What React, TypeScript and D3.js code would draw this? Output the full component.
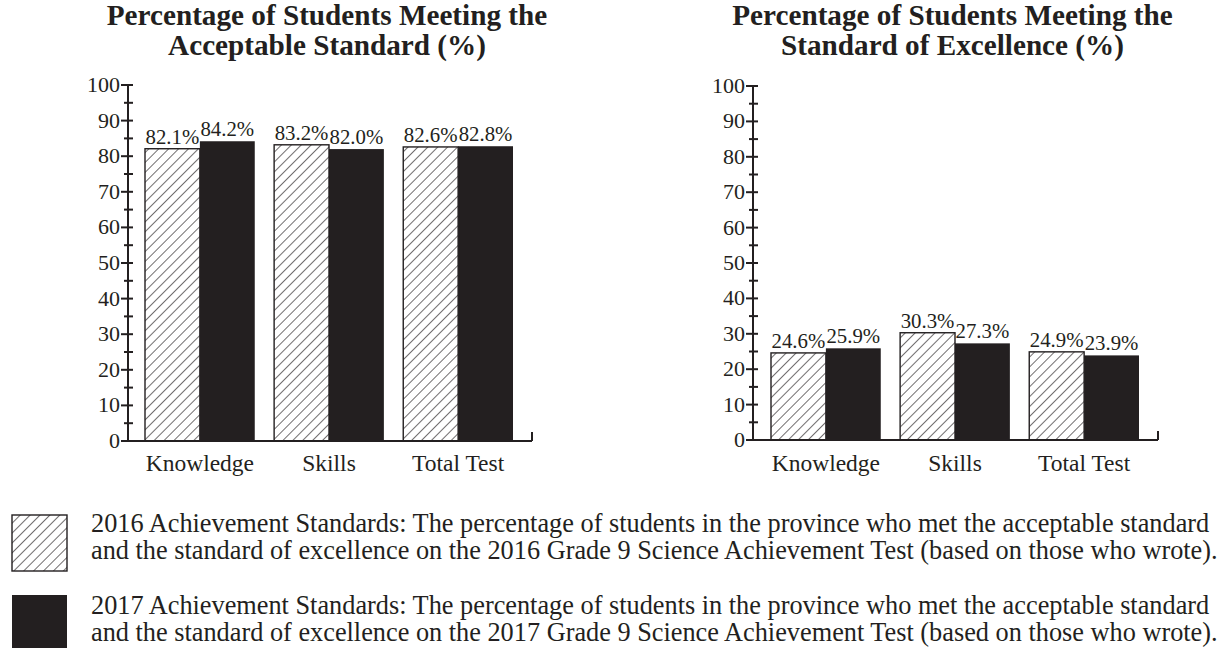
import React from "react";
import * as d3 from "d3";

// chart data
const categories = ["Knowledge", "Skills", "Total Test"];
const years = ["2016", "2017"];
const acceptable2016 = [82.1, 83.2, 82.6];
const acceptable2017 = [84.2, 82.0, 82.8];
const excellence2016 = [24.6, 30.3, 24.9];
const excellence2017 = [25.9, 27.3, 23.9];
const yTicks = [0, 10, 20, 30, 40, 50, 60, 70, 80, 90, 100];
const minorTicks = [5, 15, 25, 35, 45, 55, 65, 75, 85, 95];
const titlesLeft = ["Percentage of Students Meeting the", "Acceptable Standard (%)"];
const titlesRight = ["Percentage of Students Meeting the", "Standard of Excellence (%)"];
const legendLines = [
  [
    "2016 Achievement Standards: The percentage of students in the province who met the acceptable standard",
    "and the standard of excellence on the 2016 Grade 9 Science Achievement Test (based on those who wrote).",
  ],
  [
    "2017 Achievement Standards: The percentage of students in the province who met the acceptable standard",
    "and the standard of excellence on the 2017 Grade 9 Science Achievement Test (based on those who wrote).",
  ],
];

const FONT = "'Liberation Serif', 'Times New Roman', serif";
const INK = "#231f20";

function Panel({ x0, x1, barStart, barEnd, yTop, yBottom, titles, a, b }) {
  const y = d3.scaleLinear().domain([0, 100]).range([yBottom, yTop]);
  const x = d3.scaleBand().domain(categories).range([barStart, barEnd]).paddingInner(0.15);
  const sub = d3.scaleBand().domain(years).range([0, x.bandwidth()]);
  const cx = (x0 + x1) / 2 - 3;
  return (
    <g>
      {titles.map((t, i) => (
        <text key={t} x={cx} y={25 + i * 30} textAnchor="middle" fontSize={29.2} fontWeight="bold" fill={INK}>
          {t}
        </text>
      ))}
      {categories.map((c, i) => {
        const vals = [a[i], b[i]];
        return (
          <g key={c}>
            {years.map((yr, j) => {
              const bx = x(c) + sub(yr);
              const by = y(vals[j]);
              return (
                <g key={yr}>
                  <rect
                    x={bx}
                    y={by}
                    width={sub.bandwidth()}
                    height={yBottom - by}
                    fill={j === 0 ? "url(#hatch)" : INK}
                    stroke={INK}
                    strokeWidth={j === 0 ? 1.4 : 0}
                  />
                  <text x={bx + sub.bandwidth() / 2} y={by - 5} textAnchor="middle" fontSize={20.8} fill={INK}>
                    {vals[j].toFixed(1)}%
                  </text>
                </g>
              );
            })}
            <text x={x(c) + x.bandwidth() / 2} y={471} textAnchor="middle" fontSize={23.5} fill={INK}>
              {c}
            </text>
          </g>
        );
      })}
      {/* y axis */}
      <line x1={x0} x2={x0} y1={yTop} y2={yBottom} stroke={INK} strokeWidth={2} />
      {yTicks.map((t) => (
        <g key={t}>
          <line x1={x0 - 7} x2={x0 + 5} y1={y(t)} y2={y(t)} stroke={INK} strokeWidth={2} />
          <text x={x0 - 8} y={y(t) + 7} textAnchor="end" fontSize={22} fill={INK}>
            {t}
          </text>
        </g>
      ))}
      {minorTicks.map((t) => (
        <line key={t} x1={x0 - 4} x2={x0 + 5} y1={y(t)} y2={y(t)} stroke={INK} strokeWidth={2} />
      ))}
      {/* x axis */}
      <line x1={x0 - 7} x2={x1} y1={yBottom} y2={yBottom} stroke={INK} strokeWidth={2} />
      <line x1={x1} x2={x1} y1={yBottom} y2={yBottom - 9} stroke={INK} strokeWidth={2} />
    </g>
  );
}

export default function App() {
  return (
    <svg
      width={1221}
      height={648}
      style={{ position: "absolute", left: 0, top: 0, background: "#fff" }}
      fontFamily={FONT}
    >
      <defs>
        <pattern id="hatch" patternUnits="userSpaceOnUse" width={7} height={7} patternTransform="rotate(45)">
          <rect width={7} height={7} fill="#fff" />
          <line x1={0} y1={0} x2={0} y2={7} stroke={INK} strokeWidth={1.3} />
        </pattern>
      </defs>
      <Panel
        x0={128}
        x1={532}
        barStart={145}
        barEnd={513}
        yTop={85}
        yBottom={441}
        titles={titlesLeft}
        a={acceptable2016}
        b={acceptable2017}
      />
      <Panel
        x0={753}
        x1={1158}
        barStart={771}
        barEnd={1139}
        yTop={86}
        yBottom={440}
        titles={titlesRight}
        a={excellence2016}
        b={excellence2017}
      />
      {/* legend */}
      <rect x={12} y={515} width={55} height={56} fill="url(#hatch)" stroke={INK} strokeWidth={1.4} />
      <rect x={12} y={595} width={55} height={56} fill={INK} />
      {legendLines.map((lines, i) =>
        lines.map((l, k) => (
          <text key={l} x={91} y={532 + i * 82 + k * 27} fontSize={26.3} fill={INK}>
            {l}
          </text>
        ))
      )}
    </svg>
  );
}
